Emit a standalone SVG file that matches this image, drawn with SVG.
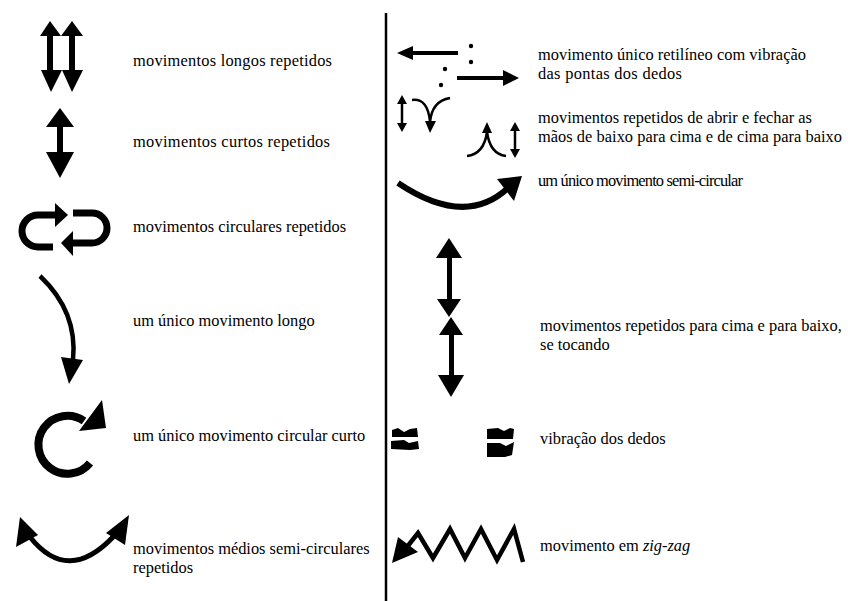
<svg xmlns="http://www.w3.org/2000/svg" width="848" height="601" viewBox="0 0 848 601">
<style>
  .fill { fill: #000; stroke: none; }
  .st { fill: none; stroke: #000; stroke-linecap: butt; stroke-linejoin: miter; }
</style>
<rect width="848" height="601" fill="#fff"/>

<g id="divider">
  <line x1="386" y1="13" x2="386" y2="601" stroke="#000" stroke-width="2.5"/>
</g>

<g id="long-repeated">
  <rect class="fill" x="47" y="35" width="6" height="36"/>
  <rect class="fill" x="69" y="35" width="6" height="36"/>
  <polygon class="fill" points="40,36 61,36 50,21"/>
  <polygon class="fill" points="61,36 83,36 72,21"/>
  <polygon class="fill" points="41,70 62,70 51,92"/>
  <polygon class="fill" points="62,70 83,70 72,92"/>
  <text x="133" y="66" font-size="16.4" textLength="199" style="font-family:'Liberation Serif'">movimentos longos repetidos</text>
</g>

<g id="short-repeated">
  <rect class="fill" x="57" y="126" width="6" height="27"/>
  <polygon class="fill" points="46,127 74,127 60,108"/>
  <polygon class="fill" points="46,152 74,152 60,178"/>
  <text x="133" y="147" font-size="16.4" textLength="197" style="font-family:'Liberation Serif'">movimentos curtos repetidos</text>
</g>

<g id="circular-repeated">
  <path class="st" stroke-width="7" d="M 56 215 H 38 A 16 16 0 0 0 38 247 H 53"/>
  <polygon class="fill" points="55,203 55,227 68,215"/>
  <path class="st" stroke-width="7" d="M 73 213 H 92 A 15 15 0 0 1 92 243 H 72"/>
  <polygon class="fill" points="73,231 73,256 61,243"/>
  <text x="133" y="232" font-size="16.4" style="font-family:'Liberation Serif'">movimentos circulares repetidos</text>
</g>

<g id="single-long">
  <path class="st" stroke-width="4.5" d="M 40 276 Q 78 312 73 360"/>
  <polygon class="fill" points="61,357 83,360 69,384"/>
  <text x="133" y="326" font-size="16.4" style="font-family:'Liberation Serif'">um único movimento longo</text>
</g>

<g id="single-circular-short">
  <path class="st" stroke-width="8" d="M 90 463 A 29 29 0 1 1 84 421"/>
  <polygon class="fill" points="79,431 106,428 102,400"/>
  <text x="133" y="441" font-size="16.4" style="font-family:'Liberation Serif'">um único movimento circular curto</text>
</g>

<g id="medium-semicircular">
  <path class="st" stroke-width="5" d="M 30 537 Q 68 585 114 536"/>
  <polygon class="fill" points="16,547 38,535 20,517"/>
  <polygon class="fill" points="106,533 125,545 129,515"/>
  <text x="133" y="554" font-size="16.4" style="font-family:'Liberation Serif'">movimentos médios semi-circulares</text>
  <text x="133" y="573" font-size="16.4" style="font-family:'Liberation Serif'">repetidos</text>
</g>

<g id="straight-vibration">
  <line class="st" stroke-width="4" x1="411" y1="53" x2="458" y2="53"/>
  <polygon class="fill" points="413,46 413,60 397,53"/>
  <line class="st" stroke-width="4" x1="457" y1="78" x2="505" y2="78"/>
  <polygon class="fill" points="503,70 503,86 519,78"/>
  <circle class="fill" cx="471" cy="46" r="2.2"/>
  <circle class="fill" cx="471" cy="62" r="2.2"/>
  <circle class="fill" cx="445" cy="69" r="2.2"/>
  <circle class="fill" cx="441" cy="85" r="2.2"/>
  <text x="538" y="60" font-size="16.4" textLength="268" style="font-family:'Liberation Serif'">movimento único retilíneo com vibração</text>
  <text x="538" y="79" font-size="16.4" textLength="144" style="font-family:'Liberation Serif'">das pontas dos dedos</text>
</g>

<g id="open-close">
  <line class="st" stroke-width="2.5" x1="402" y1="103" x2="402" y2="124"/>
  <polygon class="fill" points="397,104 407,104 402,95"/>
  <polygon class="fill" points="397,123 407,123 402,132"/>
  <path class="st" stroke-width="2.5" d="M 412 100 Q 428 98 430 122"/>
  <path class="st" stroke-width="2.5" d="M 450 98 Q 432 101 430 122"/>
  <polygon class="fill" points="425,121 436,121 430,133"/>
  <path class="st" stroke-width="2.5" d="M 467 156 Q 484 154 487 132"/>
  <path class="st" stroke-width="2.5" d="M 506 156 Q 490 154 487 132"/>
  <polygon class="fill" points="482,133 492,133 487,122"/>
  <line class="st" stroke-width="2.5" x1="515" y1="130" x2="515" y2="150"/>
  <polygon class="fill" points="510,131 520,131 515,122"/>
  <polygon class="fill" points="510,149 520,149 515,158"/>
  <text x="538" y="123" font-size="16.4" textLength="274" style="font-family:'Liberation Serif'">movimentos repetidos de abrir e fechar as</text>
  <text x="538" y="142" font-size="16.4" textLength="304" style="font-family:'Liberation Serif'">mãos de baixo para cima e de cima para baixo</text>
</g>

<g id="single-semicircular">
  <path class="st" stroke-width="6" d="M 398 183 Q 465 228 508 188"/>
  <polygon class="fill" points="497,179 522,176 514,201"/>
  <text x="538" y="186" font-size="16.4" textLength="205" style="font-family:'Liberation Serif'">um único movimento semi-circular</text>
</g>

<g id="touching-arrows">
  <rect class="fill" x="447" y="257" width="5" height="43"/>
  <polygon class="fill" points="436,258 462,258 449,238"/>
  <polygon class="fill" points="437,299 461,299 449,317"/>
  <rect class="fill" x="449" y="334" width="5" height="42"/>
  <polygon class="fill" points="439,335 463,335 451,317"/>
  <polygon class="fill" points="438,375 464,375 451,397"/>
  <text x="540" y="331" font-size="16.4" style="font-family:'Liberation Serif'">movimentos repetidos para cima e para baixo,</text>
  <text x="540" y="350" font-size="16.4" style="font-family:'Liberation Serif'">se tocando</text>
</g>

<g id="finger-vibration">
  <polygon class="fill" points="392,430 398,428 404,432 410,429 417,428 418,437 392,437"/>
  <polygon class="fill" points="391,441 404,440 409,443 418,441 419,449 410,450 391,449"/>
  <polygon class="fill" points="487,429 498,428 504,431 510,428 514,429 513,439 487,439"/>
  <polygon class="fill" points="487,443 500,443 506,446 514,442 512,455 505,457 487,457"/>
  <text x="540" y="444" font-size="16.4" style="font-family:'Liberation Serif'">vibração dos dedos</text>
</g>

<g id="zigzag">
  <polyline class="st" stroke-width="4.5" points="523,562 514,529 497,560 481,529 465,558 450,529 433,558 418,533 407,547"/>
  <polygon class="fill" points="392,563 398,537 418,552"/>
  <text x="540" y="551" font-size="16.4" style="font-family:'Liberation Serif'">movimento em <tspan font-style="italic">zig-zag</tspan></text>
</g>
</svg>
